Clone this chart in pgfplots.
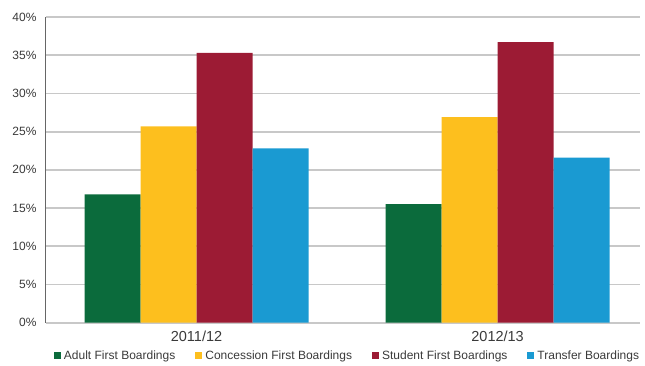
\documentclass[border=0pt]{standalone}
\usepackage{pgfplots}
\pgfplotsset{compat=1.18}
\usepackage{fontspec}
\setmainfont{Liberation Sans}
\definecolor{cgreen}{HTML}{0B6B3C}
\definecolor{cyellow}{HTML}{FDBF1E}
\definecolor{cmaroon}{HTML}{9C1B34}
\definecolor{cblue}{HTML}{1A9AD2}
\definecolor{cgrid}{HTML}{C8C8C8}
\definecolor{ctext}{HTML}{3A3A3A}
\begin{document}
\begin{tikzpicture}
\begin{axis}[name=ax,
  scale only axis, width=594pt, height=305.6pt,
  ybar=0pt, bar width=56pt,
  xmin=-0.5, xmax=1.473, ymin=0, ymax=40,
  xtick={0,1}, xticklabels={2011/12,2012/13},
  ytick={0,5,...,40},
  /pgf/number format/assume math mode=true,
  yticklabel={\pgfmathprintnumber{\tick}\%},
  ymajorgrids, grid style={cgrid, line width=1.8pt},
  axis x line*=bottom, axis y line*=left,
  x axis line style={cgrid, line width=1.8pt, -},
  y axis line style={black!60, line width=1pt, -},
  major tick length=0pt,
  tick label style={text=ctext},
  yticklabel style={font=\fontsize{12}{14}\selectfont, xshift=-6pt},
  xticklabel style={font=\fontsize{14.5}{16}\selectfont, yshift=-5pt},
  legend style={at={(rel axis cs:0.5076,-0.109)}, anchor=center, draw=none, fill=none,
    font=\fontsize{12}{14}\selectfont, text=ctext, legend columns=4,
    /tikz/every odd column/.append style={column sep=1pt},
    /tikz/every even column/.append style={column sep=18pt},
    inner sep=0pt},
  legend image code/.code={\fill[#1] (0pt,-3.5pt) rectangle (7pt,3.5pt);},
  legend cell align=left,
  clip=false,
]
\addplot[fill=cgreen, draw=none] coordinates {(0,16.8) (1,15.5)};
\addplot[fill=cyellow, draw=none] coordinates {(0,25.7) (1,26.9)};
\addplot[fill=cmaroon, draw=none] coordinates {(0,35.3) (1,36.7)};
\addplot[fill=cblue, draw=none] coordinates {(0,22.8) (1,21.6)};
\legend{Adult First Boardings, Concession First Boardings, Student First Boardings, Transfer Boardings}
\end{axis}
\pgfresetboundingbox
\path[use as bounding box] (ax.south west) ++(-46pt,-42.4pt) rectangle ++(645pt,365pt);
\end{tikzpicture}
\end{document}
